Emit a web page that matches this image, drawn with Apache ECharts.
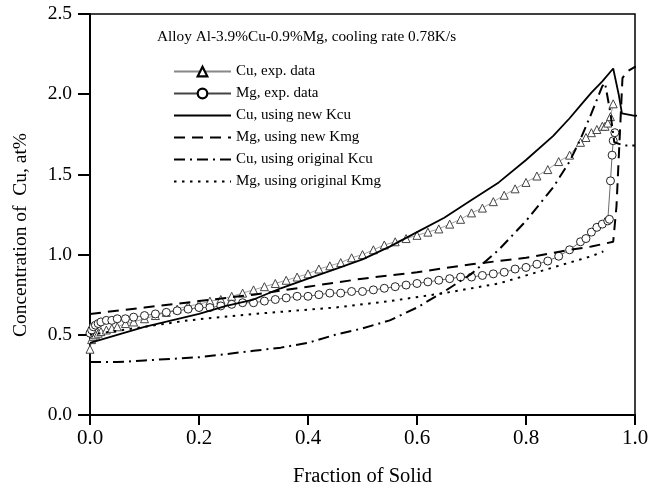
<!DOCTYPE html>
<html>
<head>
<meta charset="utf-8">
<script src="https://cdn.jsdelivr.net/npm/echarts@6/dist/echarts.min.js"></script>
<style>
  html, body { margin: 0; padding: 0; background: #fff; }
  #chart { width: 660px; height: 498px; }
</style>
</head>
<body>
<div id="chart"></div>
<script>
var titleText = 'Alloy Al-3.9%Cu-0.9%Mg, cooling rate 0.78K/s';
var yTitle = 'Concentration of  Cu, at%';
var seriesNames = ['Cu, exp. data', 'Mg, exp. data', 'Cu, using new Kcu', 'Mg, using new Kmg', 'Cu, using original Kcu', 'Mg, using original Kmg'];

// experimental Cu (triangles)
var cuExpX = [0, 0.003, 0.006, 0.01, 0.015, 0.02, 0.03, 0.04, 0.05, 0.065, 0.08, 0.1, 0.12, 0.14, 0.16, 0.18, 0.2, 0.22, 0.24, 0.26, 0.28, 0.3, 0.32, 0.34, 0.36, 0.38, 0.4, 0.42, 0.44, 0.46, 0.48, 0.5, 0.52, 0.54, 0.56, 0.58, 0.6, 0.62, 0.64, 0.66, 0.68, 0.7, 0.72, 0.74, 0.76, 0.78, 0.8, 0.82, 0.84, 0.86, 0.88, 0.9, 0.91, 0.92, 0.93, 0.94, 0.945, 0.95, 0.955, 0.96];
var cuExpY = [0.41, 0.47, 0.49, 0.50, 0.51, 0.52, 0.53, 0.54, 0.55, 0.57, 0.58, 0.60, 0.62, 0.64, 0.66, 0.68, 0.69, 0.71, 0.72, 0.74, 0.76, 0.78, 0.80, 0.82, 0.84, 0.86, 0.88, 0.91, 0.93, 0.95, 0.98, 1.00, 1.03, 1.06, 1.08, 1.10, 1.12, 1.14, 1.16, 1.19, 1.22, 1.26, 1.29, 1.33, 1.37, 1.41, 1.45, 1.49, 1.53, 1.58, 1.62, 1.70, 1.73, 1.76, 1.78, 1.80, 1.80, 1.82, 1.86, 1.94];

// experimental Mg (circles)
var mgExpX = [0, 0.003, 0.006, 0.01, 0.015, 0.02, 0.03, 0.04, 0.05, 0.065, 0.08, 0.1, 0.12, 0.14, 0.16, 0.18, 0.2, 0.22, 0.24, 0.26, 0.28, 0.3, 0.32, 0.34, 0.36, 0.38, 0.4, 0.42, 0.44, 0.46, 0.48, 0.5, 0.52, 0.54, 0.56, 0.58, 0.6, 0.62, 0.64, 0.66, 0.68, 0.7, 0.72, 0.74, 0.76, 0.78, 0.8, 0.82, 0.84, 0.86, 0.88, 0.9, 0.91, 0.92, 0.93, 0.94, 0.95, 0.953, 0.955, 0.958, 0.96, 0.963];
var mgExpY = [0.51, 0.53, 0.55, 0.56, 0.57, 0.58, 0.59, 0.59, 0.60, 0.60, 0.61, 0.62, 0.63, 0.64, 0.65, 0.66, 0.67, 0.67, 0.68, 0.69, 0.70, 0.70, 0.71, 0.72, 0.73, 0.74, 0.74, 0.75, 0.76, 0.76, 0.77, 0.77, 0.78, 0.79, 0.80, 0.81, 0.82, 0.83, 0.84, 0.85, 0.86, 0.86, 0.87, 0.88, 0.89, 0.91, 0.92, 0.94, 0.96, 0.99, 1.03, 1.08, 1.10, 1.14, 1.17, 1.19, 1.21, 1.22, 1.46, 1.62, 1.71, 1.76];

// Cu, new Kcu (solid)
var cuNewX = [0, 0.05, 0.1, 0.15, 0.2, 0.25, 0.3, 0.35, 0.4, 0.45, 0.5, 0.55, 0.6, 0.65, 0.7, 0.75, 0.8, 0.85, 0.88, 0.9, 0.92, 0.94, 0.96, 0.97, 0.976, 1.0, 1.01, 1.017, 1.025, 1.05];
var cuNewY = [0.45, 0.50, 0.55, 0.59, 0.63, 0.68, 0.72, 0.79, 0.85, 0.91, 0.97, 1.05, 1.14, 1.23, 1.34, 1.45, 1.59, 1.74, 1.85, 1.93, 2.01, 2.08, 2.16, 2.00, 1.88, 1.865, 1.87, 2.05, 2.15, 2.16];

// Mg, new Kmg (dashed)
var mgNewX = [0, 0.1, 0.2, 0.3, 0.4, 0.5, 0.6, 0.7, 0.8, 0.88, 0.92, 0.96, 0.966, 0.977, 0.985, 1.0, 1.05];
var mgNewY = [0.63, 0.67, 0.71, 0.75, 0.80, 0.85, 0.89, 0.94, 0.98, 1.03, 1.05, 1.08, 1.30, 2.10, 2.14, 2.17, 2.18];

// Cu, original Kcu (dash-dot)
var cuOrigX = [0, 0.05, 0.1, 0.15, 0.2, 0.25, 0.3, 0.35, 0.4, 0.45, 0.5, 0.55, 0.6, 0.65, 0.7, 0.75, 0.8, 0.85, 0.88, 0.9, 0.92, 0.94, 0.945, 0.955, 0.962, 0.98, 1.0];
var cuOrigY = [0.33, 0.33, 0.34, 0.35, 0.36, 0.38, 0.40, 0.42, 0.45, 0.50, 0.54, 0.59, 0.67, 0.77, 0.88, 1.03, 1.21, 1.42, 1.58, 1.72, 1.88, 2.05, 2.07, 1.88, 1.70, 1.68, 1.68];

// Mg, original Kmg (dotted)
var mgOrigX = [0, 0.1, 0.18, 0.3, 0.45, 0.55, 0.65, 0.75, 0.86, 0.92, 0.942];
var mgOrigY = [0.50, 0.55, 0.59, 0.63, 0.67, 0.71, 0.76, 0.82, 0.93, 0.99, 1.02];

var xTicks = ['0.0', '0.2', '0.4', '0.6', '0.8', '1.0'];
var yTicks = ['0.0', '0.5', '1.0', '1.5', '2.0', '2.5'];

function pairs(xs, ys) {
  var out = [];
  for (var i = 0; i < xs.length; i++) out.push([xs[i], ys[i]]);
  return out;
}

var serif = 'Liberation Serif';
var myChart = echarts.init(document.getElementById('chart'));

// legend: exp items keep a bold marker, model lines show no marker
var legendData = seriesNames.map(function (n, i) {
  if (i === 0) return { name: n, itemStyle: { color: '#fff', borderColor: '#000', borderWidth: 2.2 } };
  if (i === 1) return { name: n, itemStyle: { color: '#fff', borderColor: '#000', borderWidth: 2.2 } };
  return { name: n, itemStyle: { opacity: 0 } };
});

var option = {
  backgroundColor: '#fff',
  animation: false,
  title: {
    text: titleText,
    left: 152,
    top: 24,
    textStyle: { fontFamily: serif, fontSize: 15.3, fontWeight: 'normal', color: '#000' }
  },
  legend: {
    orient: 'vertical',
    left: 168,
    top: 59,
    itemWidth: 57,
    itemHeight: 12,
    itemGap: 7,
    data: legendData,
    textStyle: { fontFamily: serif, fontSize: 15, color: '#000' }
  },
  graphic: [{
    type: 'text',
    x: 21,
    y: 235,
    rotation: Math.PI / 2,
    style: {
      text: yTitle,
      align: 'center',
      verticalAlign: 'middle',
      font: '19.5px "Liberation Serif"',
      fill: '#000'
    }
  }],
  grid: {
    left: 90,
    right: 25,
    top: 14,
    bottom: 83,
    show: true,
    borderColor: '#000',
    borderWidth: 1.5
  },
  xAxis: {
    type: 'value',
    min: 0,
    max: 1,
    interval: 0.2,
    name: 'Fraction of Solid',
    nameLocation: 'middle',
    nameGap: 51,
    nameTextStyle: { fontFamily: serif, fontSize: 20.5, color: '#000' },
    axisLine: { lineStyle: { color: '#000', width: 2 } },
    axisTick: { inside: false, length: 10, lineStyle: { color: '#000', width: 2 } },
    axisLabel: {
      margin: 13,
      fontFamily: serif, fontSize: 21, color: '#000',
      formatter: function (v) { return xTicks[Math.round(v / 0.2)]; }
    },
    splitLine: { show: false }
  },
  yAxis: {
    type: 'value',
    min: 0,
    max: 2.5,
    interval: 0.5,
    axisLine: { show: true, lineStyle: { color: '#000', width: 2 } },
    axisTick: { show: true, inside: false, length: 12, lineStyle: { color: '#000', width: 2 } },
    axisLabel: {
      margin: 18,
      fontFamily: serif, fontSize: 19.5, color: '#000',
      formatter: function (v) { return yTicks[Math.round(v / 0.5)]; }
    },
    splitLine: { show: false }
  },
  series: [
    {
      name: seriesNames[0],
      type: 'line',
      data: pairs(cuExpX, cuExpY),
      symbol: 'triangle',
      symbolSize: 8,
      itemStyle: { color: '#fff', borderColor: '#444', borderWidth: 1 },
      lineStyle: { color: '#888', width: 0.8 },
      z: 3
    },
    {
      name: seriesNames[1],
      type: 'line',
      data: pairs(mgExpX, mgExpY),
      symbol: 'circle',
      symbolSize: 8,
      itemStyle: { color: '#fff', borderColor: '#222', borderWidth: 1 },
      lineStyle: { color: '#444', width: 0.8 },
      z: 3
    },
    {
      name: seriesNames[2],
      type: 'line',
      data: pairs(cuNewX, cuNewY),
      symbol: 'none',
      clip: false,
      lineStyle: { color: '#000', width: 1.8, type: 'solid' },
      itemStyle: { color: '#000' },
      z: 4
    },
    {
      name: seriesNames[3],
      type: 'line',
      data: pairs(mgNewX, mgNewY),
      symbol: 'none',
      clip: false,
      lineStyle: { color: '#000', width: 2, type: [11, 7] },
      itemStyle: { color: '#000' },
      z: 4
    },
    {
      name: seriesNames[4],
      type: 'line',
      data: pairs(cuOrigX, cuOrigY),
      symbol: 'none',
      lineStyle: { color: '#000', width: 2, type: [11, 5, 2, 5] },
      itemStyle: { color: '#000' },
      z: 4
    },
    {
      name: seriesNames[5],
      type: 'line',
      data: pairs(mgOrigX, mgOrigY),
      symbol: 'none',
      lineStyle: { color: '#000', width: 2, type: [2.5, 5.5] },
      itemStyle: { color: '#000' },
      z: 4
    }
  ]
};
myChart.setOption(option);
</script>
</body>
</html>
